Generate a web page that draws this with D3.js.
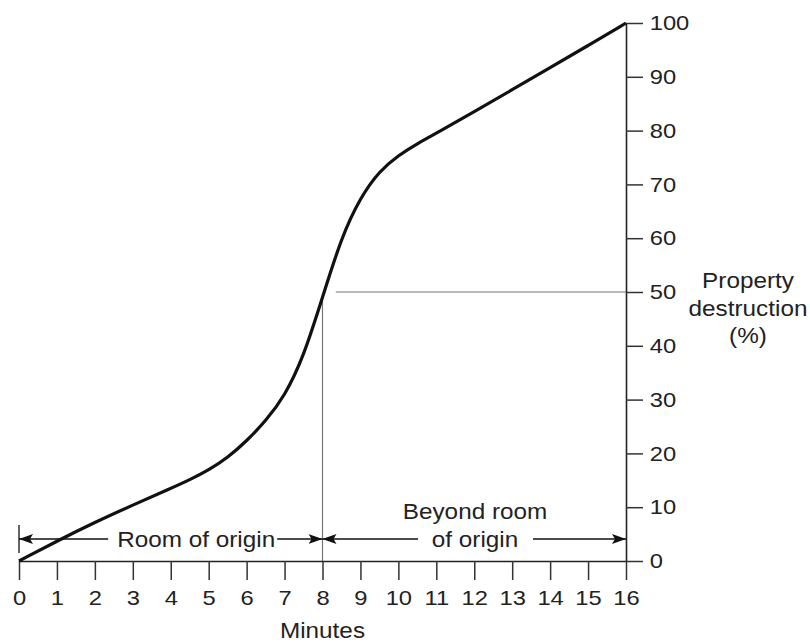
<!DOCTYPE html>
<html>
<head>
<meta charset="utf-8">
<script src="https://cdn.jsdelivr.net/npm/d3@7"></script>
<style>
body { margin: 0; background: #fff; }
text { font-family: "Liberation Sans", Arial, sans-serif; fill: #222; }
</style>
</head>
<body>
<div id="plot"></div>
<script>
// curve
var minutes     = [0, 1, 2, 3, 4, 4.5, 5, 5.5, 6, 6.5, 7, 7.5, 8, 8.5, 9, 9.5, 10, 10.5, 11, 12, 13, 14, 15, 16];
var destruction = [0, 3.7, 7.2, 10.4, 13.5, 15.1, 16.9, 19.2, 22.3, 26.0, 30.6, 37.9, 49, 60.2, 67.6, 72.5, 75.4, 77.6, 79.5, 83.5, 87.6, 91.7, 95.8, 100];

var xTicks = d3.range(0, 17, 1);
var yTicks = d3.range(0, 101, 10);

// spans under the curve, in minutes
var spanStarts = [0, 8];
var spanEnds   = [8, 16];
var spanLabels = [["Room of origin"], ["Beyond room", "of origin"]];

var yLabel = ["Property", "destruction", "(%)"];
var xLabel = "Minutes";

var W = 810, H = 643;
var margin = {t: 23, r: 184, b: 82, l: 19};
var width = W - margin.l - margin.r,
    height = H - margin.t - margin.b;

var svg = d3.select('#plot').append('svg')
  .attr('width', W)
  .attr('height', H);

var plot = svg.append('g')
  .attr('transform', 'translate(' + margin.l + ',' + margin.t + ')');

var x = d3.scaleLinear().domain([0, 16]).range([0, width]);
var y = d3.scaleLinear().domain([0, 100]).range([height, 0]);

var SX = 1.13; // the glyphs in the picture are a bit wider than Arial

function label(g, tx, ty, str, size, anchor) {
  return g.append('text')
    .attr('transform', 'translate(' + tx + ',' + ty + ') scale(' + SX + ',1)')
    .attr('text-anchor', anchor || 'middle')
    .style('font-size', size + 'px')
    .text(str);
}

// arrow heads
var defs = svg.append('defs');
defs.append('marker')
  .attr('id', 'head')
  .attr('viewBox', '0 0 14 10')
  .attr('refX', 14).attr('refY', 5)
  .attr('markerWidth', 14).attr('markerHeight', 10)
  .attr('markerUnits', 'userSpaceOnUse')
  .attr('orient', 'auto-start-reverse')
  .append('path')
  .attr('d', 'M0,0 L14,5 L0,10 L3,5 Z')
  .style('fill', '#111');

// reference lines at 50 %
plot.append('line')
  .attr('x1', x(8)).attr('x2', x(8))
  .attr('y1', y(0)).attr('y2', y(49))
  .style('stroke', '#777').style('stroke-width', 1.2);
plot.append('line')
  .attr('x1', x(8.35)).attr('x2', x(16))
  .attr('y1', y(50)).attr('y2', y(50))
  .style('stroke', '#777').style('stroke-width', 1.2);

// axes
var xAxis = d3.axisBottom(x).tickValues(xTicks).tickSize(19).tickSizeOuter(0).tickPadding(10);
var yAxis = d3.axisRight(y).tickValues(yTicks).tickSize(17).tickSizeOuter(0).tickPadding(4);

var gx = plot.append('g')
  .attr('transform', 'translate(0,' + height + ')')
  .call(xAxis);
var gy = plot.append('g')
  .attr('transform', 'translate(' + width + ',0)')
  .call(yAxis);

[gx, gy].forEach(function (g) {
  g.select('.domain').style('stroke', '#222').style('stroke-width', 1.6);
  g.selectAll('.tick line').style('stroke', '#333').style('stroke-width', 1.5);
  g.selectAll('.tick text')
    .style('font-size', '21px')
    .style('fill', '#222')
    .attr('font-family', null);
});
gx.selectAll('.tick text').attr('transform', 'scale(' + SX + ',1)')
  .attr('x', 0);
gy.selectAll('.tick text').attr('transform', 'scale(' + SX + ',1)');

// curve
var pts = minutes.map(function (m, i) { return [m, destruction[i]]; });
var line = d3.line()
  .x(function (d) { return x(d[0]); })
  .y(function (d) { return y(d[1]); })
  .curve(d3.curveBasis);

plot.append('path')
  .datum(pts)
  .attr('d', line)
  .style('fill', 'none')
  .style('stroke', '#111')
  .style('stroke-width', 3.2);

// span arrows
var ay = y(0) - 22;
var arrowStyle = function (sel) {
  return sel.style('stroke', '#111').style('stroke-width', 1.3).style('fill', 'none');
};

// end bar at minute 0
arrowStyle(plot.append('line')
  .attr('x1', x(0)).attr('x2', x(0))
  .attr('y1', ay - 14).attr('y2', ay + 14));

// text gaps in px around the label centre
var gaps = [[-88, 81], [-57, 58]];
var centres = [4.67, 12.02];

spanStarts.forEach(function (s, i) {
  var cx = x(centres[i]);
  arrowStyle(plot.append('line')
    .attr('x1', cx + gaps[i][0]).attr('x2', x(s))
    .attr('y1', ay).attr('y2', ay)
    .attr('marker-end', 'url(#head)'));
  arrowStyle(plot.append('line')
    .attr('x1', cx + gaps[i][1]).attr('x2', x(spanEnds[i]))
    .attr('y1', ay).attr('y2', ay)
    .attr('marker-end', 'url(#head)'));
  var lines = spanLabels[i];
  lines.forEach(function (t, j) {
    label(plot, cx, ay + 8 - (lines.length - 1 - j) * 28, t, 21.5);
  });
});

// axis titles
label(plot, x(8), height + 77, xLabel, 21.5);
yLabel.forEach(function (t, j) {
  label(plot, width + 122, 265 + j * 27.5, t, 21.5);
});
</script>
</body>
</html>
